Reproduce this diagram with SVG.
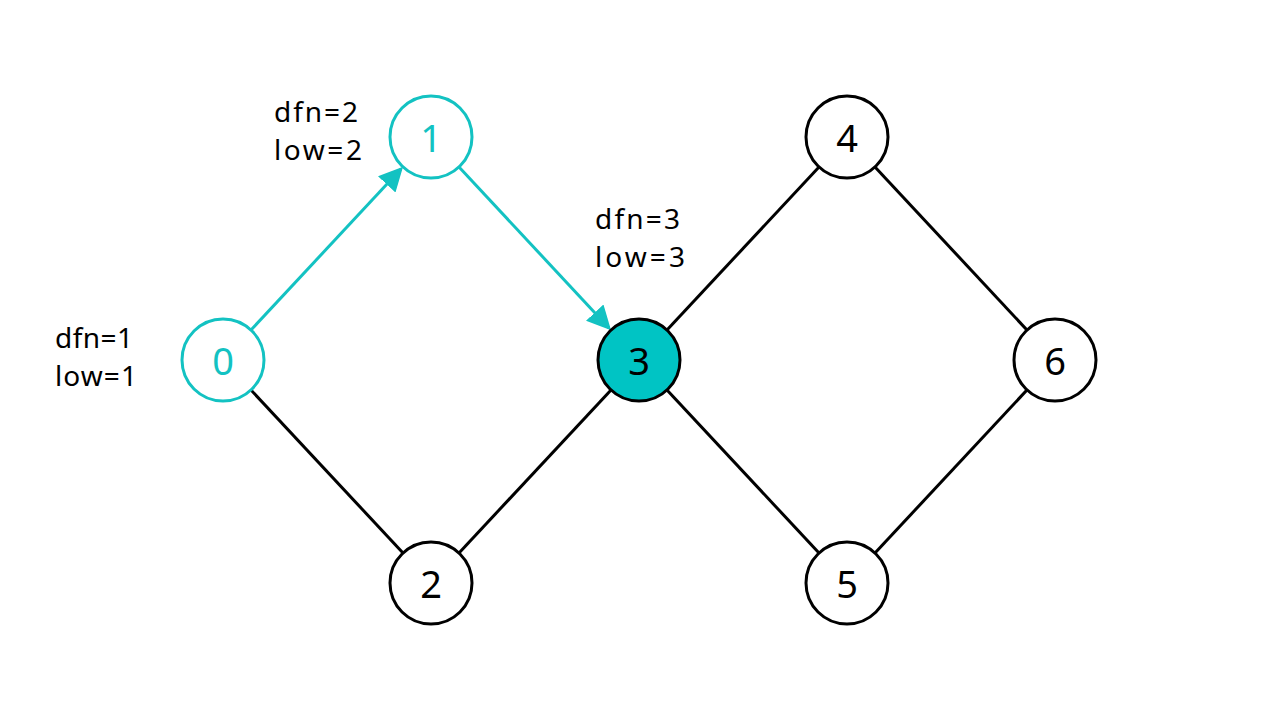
<svg xmlns="http://www.w3.org/2000/svg" width="1280" height="720" viewBox="0 0 1280 720">
<style>
.node{fill:#fff;stroke:#000;stroke-width:3}
.hl{fill:#fff;stroke:#13C2C2;stroke-width:3}
.cur{fill:#00C4C4;stroke:#000;stroke-width:3}
.num{font-family:"Noto Sans","DejaVu Sans",sans-serif;font-size:38px;text-anchor:middle;dominant-baseline:central;fill:#000}
.numhl{fill:#13C2C2}
.lbl{font-family:"Noto Sans","DejaVu Sans",sans-serif;font-size:28px;fill:#000}
.e{stroke:#000;stroke-width:3;fill:none}
.a{stroke:#13C2C2;stroke-width:3;fill:none;marker-end:url(#ah)}
</style>
<defs>
<marker id="ah" markerWidth="8" markerHeight="8" refX="7" refY="4" orient="auto" markerUnits="strokeWidth">
<path d="M0,0 L8,4 L0,8 Z" fill="#13C2C2"/>
</marker>
</defs>
<rect width="1280" height="720" fill="#fff"/>
<g id="connectors">
<line class="e" x1="223" y1="360" x2="431" y2="583"/>
<line class="e" x1="431" y1="583" x2="639" y2="360"/>
<line class="e" x1="639" y1="360" x2="847" y2="137"/>
<line class="e" x1="639" y1="360" x2="847" y2="583"/>
<line class="e" x1="847" y1="137" x2="1055" y2="360"/>
<line class="e" x1="847" y1="583" x2="1055" y2="360"/>
<line class="a" x1="251" y1="330" x2="401" y2="169"/>
<line class="a" x1="459" y1="167" x2="609" y2="328"/>
</g>
<g id="node0"><circle class="hl" cx="223" cy="360" r="41"/><text class="num numhl" x="223" y="360">0</text></g>
<g id="node1"><circle class="hl" cx="431" cy="137" r="41"/><text class="num numhl" x="431" y="137">1</text></g>
<g id="node2"><circle class="node" cx="431" cy="583" r="41"/><text class="num" x="431" y="583">2</text></g>
<g id="node3"><circle class="cur" cx="639" cy="360" r="41"/><text class="num" x="639" y="360">3</text></g>
<g id="node4"><circle class="node" cx="847" cy="137" r="41"/><text class="num" x="847" y="137">4</text></g>
<g id="node5"><circle class="node" cx="847" cy="583" r="41"/><text class="num" x="847" y="583">5</text></g>
<g id="node6"><circle class="node" cx="1055" cy="360" r="41"/><text class="num" x="1055" y="360">6</text></g>
<g id="labels">
<text class="lbl" x="55" y="348" textLength="78">dfn=1</text>
<text class="lbl" x="55" y="386" textLength="82">low=1</text>
<text class="lbl" x="274" y="122" textLength="84">dfn=2</text>
<text class="lbl" x="274" y="160" textLength="88">low=2</text>
<text class="lbl" x="595" y="229" textLength="85">dfn=3</text>
<text class="lbl" x="595" y="267" textLength="90">low=3</text>
</g>
</svg>
